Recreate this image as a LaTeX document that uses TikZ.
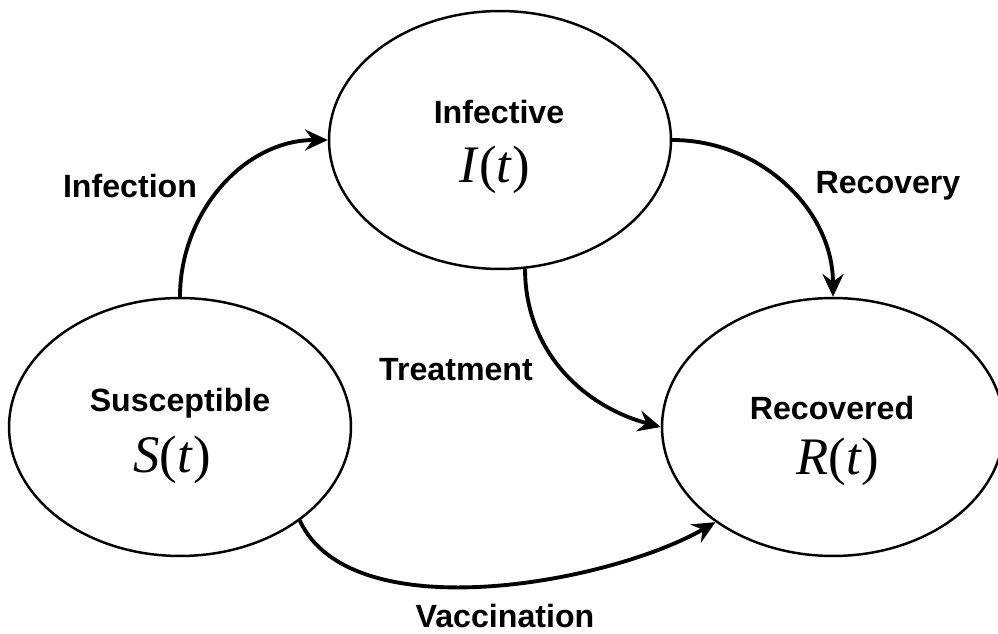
\documentclass[tikz,border=0pt]{standalone}
\usepackage{fontspec}
\setmainfont{Liberation Sans}
\newfontfamily\exprfont{Liberation Serif}
\usepackage{tikz}
\usetikzlibrary{shapes.geometric}
\usetikzlibrary{arrows.meta}
\tikzstyle{compartment}=[ellipse,draw,line width=1.4pt,minimum width=6.84cm,minimum height=5.16cm,inner sep=0pt]
\tikzstyle{flow} = [draw,line width=2.2pt,-{Stealth[length=13pt,width=12pt,inset=4.5pt]}]
\tikzstyle{title} = [font=\fontsize{18.3}{22}\selectfont\bfseries]
\tikzstyle{expr} = [font=\fontsize{30}{34}\exprfont]
\tikzstyle{flowlabel} = [font=\fontsize{18.3}{22}\selectfont\bfseries]

\begin{document}
\begin{tikzpicture}[x=0.02cm,y=0.02cm]

\useasboundingbox (0,0) rectangle (998,633);

%compartments
    \foreach \pos/\name in {{(180,206)/S}, {(500,493)/I}, {(833,206)/R}}
        \node[compartment] (\name) at \pos {};

%names and variables
    \node[title] (Sname) at (180,230) {Susceptible};
    \node[expr] (Sexpr) at (172,173) {\textit{S}(\textit{t})};
    \node[title] (Iname) at (499,521) {Infective};
    \node[expr] (Iexpr) at (495,463) {\textit{I}(\textit{t})};
    \node[title] (Rname) at (832,225) {Recovered};
    \node[expr] (Rexpr) at (838,171) {\textit{R}(\textit{t})};

%flows
    \path[flow] (S.north) to[out=90, in=180] (I.west);
    \path[flow] (I.east) to[out=0, in=90] (R.north);
    \path[flow] (I.-79) to[out=-90, in=165] (R.west);
    \path[flow] (S.-38) to[out=-65, in=210, looseness=0.75] (R.-141);

%flow labels
    \node[flowlabel] (infection) at (130,447) {Infection};
    \node[flowlabel] (recovery) at (888,447) {Recovery};
    \node[flowlabel] (treatment) at (456,263) {Treatment};
    \node[flowlabel] (vaccination) at (505,17) {Vaccination};

\end{tikzpicture}
\end{document}
